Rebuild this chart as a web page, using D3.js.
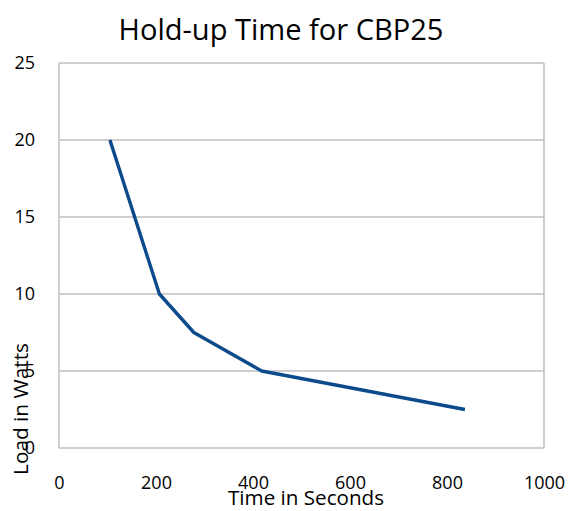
<!DOCTYPE html>
<html>
<head>
<meta charset="utf-8">
<script src="https://cdn.jsdelivr.net/npm/d3@7"></script>
<style>
  html, body { margin: 0; padding: 0; background: #fff; }
  svg { display: block; }
</style>
</head>
<body>
<div id="chart"></div>
<script>
const TITLE = "Hold-up Time for CBP25";
const X_LABEL = "Time in Seconds";
const Y_LABEL = "Load in Watts";

const timeSeconds = [105, 207, 278, 418, 837];
const loadWatts   = [20, 10, 7.5, 5, 2.5];
const xTicks = [0, 200, 400, 600, 800, 1000];
const yTicks = [0, 5, 10, 15, 20, 25];

const LINE = "#0b4a8b";
const GRID = "#bfbfbf";
const TEXT = "#000";
const FONT = "'Open Sans', 'Noto Sans', sans-serif";

const W = 569, H = 511;
const margin = { top: 63, right: 25, bottom: 63, left: 59 };
const chartW = W - margin.left - margin.right;
const chartH = H - margin.top - margin.bottom;

const x = d3.scaleLinear().domain([0, 1000]).range([0, chartW]);
const y = d3.scaleLinear().domain([0, 25]).range([chartH, 0]);

const svg = d3.select("#chart").append("svg")
  .attr("width", W).attr("height", H)
  .style("font-family", FONT);

const g = svg.append("g").attr("transform", `translate(${margin.left},${margin.top})`);

// shrink/grow a text so it spans about the given width
function fitWidth(sel, target) {
  const fs = parseFloat(sel.style("font-size"));
  const w = sel.node().getComputedTextLength();
  if (w > 0) sel.style("font-size", (fs * target / w).toFixed(2) + "px");
}

// horizontal gridlines
g.selectAll(".grid").data(yTicks).join("line")
  .attr("class", "grid")
  .attr("x1", 0).attr("x2", chartW)
  .attr("y1", d => y(d)).attr("y2", d => y(d))
  .attr("stroke", GRID).attr("stroke-width", 1.5);

// plot frame sides
[0, chartW].forEach(px => {
  g.append("line")
    .attr("x1", px).attr("x2", px)
    .attr("y1", 0).attr("y2", chartH)
    .attr("stroke", GRID).attr("stroke-width", 1.5);
});

// y tick labels
const yAxis = d3.axisLeft(y).tickValues(yTicks).tickFormat(d3.format("d")).tickSize(0).tickPadding(24);
const yg = g.append("g").call(yAxis);
yg.select(".domain").remove();
yg.selectAll("text").style("font-size", "18px").style("font-family", FONT).attr("fill", TEXT);

// x tick labels
const xAxis = d3.axisBottom(x).tickValues(xTicks).tickFormat(d3.format("d")).tickSize(0).tickPadding(28);
const xg = g.append("g").attr("transform", `translate(0,${chartH})`).call(xAxis);
xg.select(".domain").remove();
xg.selectAll("text").style("font-size", "18px").style("font-family", FONT).attr("fill", TEXT);

// data line
const line = d3.line().x((d, i) => x(timeSeconds[i])).y(d => y(d));
g.append("path")
  .datum(loadWatts)
  .attr("d", line)
  .attr("fill", "none")
  .attr("stroke", LINE)
  .attr("stroke-width", 3.4)
  .attr("stroke-linejoin", "round");

// title
const title = svg.append("text")
  .attr("x", 281).attr("y", 40)
  .attr("text-anchor", "middle")
  .style("font-size", "28px").attr("fill", TEXT)
  .text(TITLE);
fitWidth(title, 325);

// axis titles (they sit over the tick labels, as in the original)
const xt = svg.append("text")
  .attr("x", 306).attr("y", 505)
  .attr("text-anchor", "middle")
  .style("font-size", "18px").attr("fill", TEXT)
  .text(X_LABEL);
fitWidth(xt, 156);

const yt = svg.append("text")
  .attr("transform", "translate(28,409) rotate(-90)")
  .attr("text-anchor", "middle")
  .style("font-size", "18px").attr("fill", TEXT)
  .text(Y_LABEL);
fitWidth(yt, 132);
</script>
</body>
</html>
